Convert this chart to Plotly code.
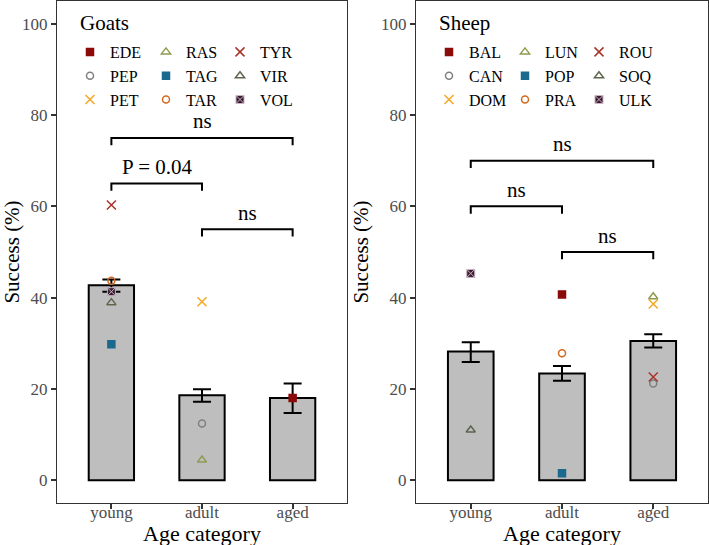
import plotly.graph_objects as go

FONT = "Liberation Serif"

ages = ["young", "adult", "aged"]

# Goats
goat_mean = [42.7, 18.6, 18.0]
goat_err_plus = [1.3, 1.3, 3.2]
goat_err_minus = [1.4, 1.4, 3.3]
goat_pops = ["EDE", "PEP", "PET", "RAS", "TAG", "TAR", "TYR", "VIR", "VOL"]
goat_pop_age = ["aged", "adult", "adult", "adult", "young", "young", "young", "young", "young"]
goat_pop_val = [18.0, 12.4, 39.1, 4.4, 29.8, 43.7, 60.3, 38.9, 41.3]
goat_brackets_from = ["young", "young", "adult"]
goat_brackets_to = ["aged", "adult", "aged"]
goat_brackets_h = [75, 65, 55]
goat_brackets_lab = ["ns", "P = 0.04", "ns"]

# Sheep
sheep_mean = [28.2, 23.4, 30.5]
sheep_err_plus = [2.0, 1.6, 1.5]
sheep_err_minus = [2.3, 1.6, 1.4]
sheep_pops = ["BAL", "CAN", "DOM", "LUN", "POP", "PRA", "ROU", "SOQ", "ULK"]
sheep_pop_age = ["adult", "aged", "aged", "aged", "adult", "adult", "aged", "young", "young"]
sheep_pop_val = [40.7, 21.2, 38.6, 40.2, 1.5, 27.8, 22.6, 11.0, 45.3]
sheep_brackets_from = ["young", "young", "adult"]
sheep_brackets_to = ["aged", "adult", "aged"]
sheep_brackets_h = [70, 60, 50]
sheep_brackets_lab = ["ns", "ns", "ns"]

# style per population slot (same order in both species)
slot_symbols = ["square", "circle-open", "x-thin-open", "triangle-up-open", "square",
                "circle-open", "x-thin-open", "triangle-up-open", "square-x"]
slot_colors = ["#8B0A0A", "#7F7F7F", "#F5A623", "#8E9B4E", "#1B6A8E",
               "#D2691E", "#A8332B", "#5E6650", "#3A1C30"]
slot_sizes = [7, 7, 9, 8, 7, 7, 9, 8, 8]

fig = go.Figure()

M_L, M_R, M_T, M_B = 57, 1, 1, 42
W, H = 709, 545
PW = W - M_L - M_R
PH = H - M_T - M_B


def px2paper_x(px):
    return (px - M_L) / PW


def px2paper_y(py):
    return 1 - (py - M_T) / PH


panels = [
    dict(name="Goats", xa="x", ya="y", mean=goat_mean, ep=goat_err_plus, em=goat_err_minus,
         pops=goat_pops, page=goat_pop_age, pval=goat_pop_val,
         bf=goat_brackets_from, bt=goat_brackets_to, bh=goat_brackets_h, bl=goat_brackets_lab,
         legends=["legend", "legend2", "legend3"], x0=57, cx=202),
    dict(name="Sheep", xa="x2", ya="y2", mean=sheep_mean, ep=sheep_err_plus, em=sheep_err_minus,
         pops=sheep_pops, page=sheep_pop_age, pval=sheep_pop_val,
         bf=sheep_brackets_from, bt=sheep_brackets_to, bh=sheep_brackets_h, bl=sheep_brackets_lab,
         legends=["legend4", "legend5", "legend6"], x0=416, cx=562),
]

col_offsets = [13, 89, 163]

legend_layout = {}
annotations = []
for p in panels:
    fig.add_trace(go.Bar(
        x=ages, y=p["mean"], xaxis=p["xa"], yaxis=p["ya"], width=0.5,
        marker=dict(color="#BEBEBE", line=dict(color="black", width=2)),
        error_y=dict(type="data", symmetric=False, array=p["ep"], arrayminus=p["em"],
                     color="black", thickness=2, width=9),
        showlegend=False, hoverinfo="skip"))
    # brackets
    for a, b, h, lab in zip(p["bf"], p["bt"], p["bh"], p["bl"]):
        fig.add_trace(go.Scatter(
            x=[a, a, b, b], y=[h - 1.6, h, h, h - 1.6], xaxis=p["xa"], yaxis=p["ya"],
            mode="lines", line=dict(color="black", width=2), showlegend=False,
            hoverinfo="skip"))
        annotations.append(dict(
            x=(ages.index(a) + ages.index(b)) / 2, y=h + 3.6, xref=p["xa"], yref=p["ya"],
            text=lab, showarrow=False, yanchor="middle",
            font=dict(family=FONT, size=21, color="black")))
    # points
    for i, (pop, age, val) in enumerate(zip(p["pops"], p["page"], p["pval"])):
        col = i // 3
        sym = slot_symbols[i]
        line = dict(color=slot_colors[i], width=1.5)
        if sym == "square-x":
            line = dict(color="#C9B3C2", width=1)
        fig.add_trace(go.Scatter(
            x=[age], y=[val], xaxis=p["xa"], yaxis=p["ya"], mode="markers", name=pop,
            legend=p["legends"][col], legendgroup=p["name"] + pop,
            marker=dict(symbol=sym, color=slot_colors[i], size=slot_sizes[i], line=line)))
    for c, lg in enumerate(p["legends"]):
        legend_layout[lg] = dict(
            x=px2paper_x(p["x0"] + col_offsets[c]),
            y=px2paper_y(35), xanchor="left", yanchor="top",
            bgcolor="rgba(0,0,0,0)", borderwidth=0, tracegroupgap=0,
            font=dict(family=FONT, size=16, color="black"), itemclick=False)
    annotations.append(dict(
        x=px2paper_x(p["x0"] + 21), y=px2paper_y(23), xref="paper", yref="paper",
        text=p["name"], showarrow=False, xanchor="left", yanchor="middle",
        font=dict(family=FONT, size=21, color="black")))
    annotations.append(dict(
        x=px2paper_x(p["cx"]), y=px2paper_y(533), xref="paper", yref="paper",
        text="Age category", showarrow=False, xanchor="center", yanchor="middle",
        font=dict(family=FONT, size=22, color="black")))

axis_common = dict(showline=True, mirror=True, linecolor="#333333", linewidth=1,
                   ticks="outside", ticklen=5, tickwidth=1.5, tickcolor="#333333",
                   showgrid=False, zeroline=False,
                   tickfont=dict(family=FONT, size=17, color="#4D4D4D"))

xdom_left = [0, px2paper_x(347)]
xdom_right = [px2paper_x(416), 1]

fig.update_layout(
    width=W, height=H,
    margin=dict(l=M_L, r=M_R, t=M_T, b=M_B),
    plot_bgcolor="white", paper_bgcolor="white",
    font=dict(family=FONT),
    annotations=annotations,
    xaxis=dict(domain=xdom_left, anchor="y", range=[-0.6, 2.6], type="category",
               ticklabelstandoff=-11, **axis_common),
    yaxis=dict(domain=[0, 1], anchor="x", range=[-5, 105], tickvals=[0, 20, 40, 60, 80, 100],
               title=dict(text="Success (%)", font=dict(family=FONT, size=21, color="black"),
                          standoff=6),
               **axis_common),
    xaxis2=dict(domain=xdom_right, anchor="y2", range=[-0.6, 2.6], type="category",
                ticklabelstandoff=-11, **axis_common),
    yaxis2=dict(domain=[0, 1], anchor="x2", range=[-5, 105], tickvals=[0, 20, 40, 60, 80, 100],
                title=dict(text="Success (%)", font=dict(family=FONT, size=21, color="black"),
                           standoff=6),
                **axis_common),
    **legend_layout,
)

fig.write_html("out.html")
